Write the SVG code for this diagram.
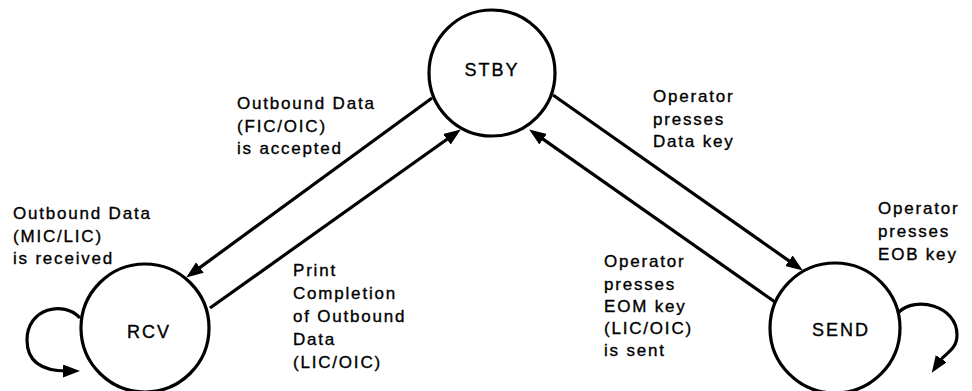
<svg xmlns="http://www.w3.org/2000/svg" width="972" height="391" viewBox="0 0 972 391">
<style>
.node{fill:#fff;stroke:#000;stroke-width:3.2}
.nl{font-family:"Liberation Sans",Arial,sans-serif;font-size:18px;letter-spacing:2px;fill:#000;stroke:#000;stroke-width:0.35;text-anchor:middle}
.lb{font-family:"Liberation Sans",Arial,sans-serif;font-size:17px;letter-spacing:1.8px;fill:#000;stroke:#000;stroke-width:0.35}
.edge{fill:none;stroke:#000;stroke-width:3.2;marker-end:url(#ah)}
</style>
<defs>
<marker id="ah" markerUnits="userSpaceOnUse" markerWidth="20" markerHeight="14" refX="4" refY="6.5" orient="auto">
<path d="M0,0 L17,6.5 L0,13 z" fill="#000"/>
</marker>
</defs>
<rect width="972" height="391" fill="#fff"/>
<g id="connectors">
<path class="edge" d="M432,98 L196.7,269.9"/>
<path class="edge" d="M210,308 L450.2,137"/>
<path class="edge" d="M553,95 L792.2,263.1"/>
<path class="edge" d="M775,302 L539.8,136.9"/>
<path class="edge" d="M80,318 C64,300 27,308 27,340 C27,362 42,371 67,371"/>
<path class="edge" d="M899,312 C915,296 957,305 957,335 C957,350 945,353 939,362"/>
</g>
<g id="node-stby">
<circle class="node" cx="492" cy="73" r="63"/>
<text class="nl" x="492" y="76">STBY</text>
</g>
<g id="node-rcv">
<circle class="node" cx="145" cy="328" r="64"/>
<text class="nl" x="149" y="338">RCV</text>
</g>
<g id="node-send">
<circle class="node" cx="835" cy="328" r="65"/>
<text class="nl" x="841" y="336">SEND</text>
</g>
<g id="labels">
<text class="lb"><tspan x="237" y="109">Outbound Data</tspan><tspan x="237" y="132">(FIC/OIC)</tspan><tspan x="237" y="154">is accepted</tspan></text>
<text class="lb"><tspan x="653" y="102">Operator</tspan><tspan x="653" y="125">presses</tspan><tspan x="653" y="147">Data key</tspan></text>
<text class="lb"><tspan x="13" y="219">Outbound Data</tspan><tspan x="13" y="242">(MIC/LIC)</tspan><tspan x="13" y="264">is received</tspan></text>
<text class="lb"><tspan x="293" y="276">Print</tspan><tspan x="293" y="299">Completion</tspan><tspan x="293" y="322">of Outbound</tspan><tspan x="293" y="345">Data</tspan><tspan x="293" y="368">(LIC/OIC)</tspan></text>
<text class="lb"><tspan x="604" y="267">Operator</tspan><tspan x="604" y="290">presses</tspan><tspan x="604" y="312">EOM key</tspan><tspan x="604" y="334">(LIC/OIC)</tspan><tspan x="604" y="356">is sent</tspan></text>
<text class="lb"><tspan x="878" y="214">Operator</tspan><tspan x="878" y="237">presses</tspan><tspan x="878" y="260">EOB key</tspan></text>
</g>
</svg>
